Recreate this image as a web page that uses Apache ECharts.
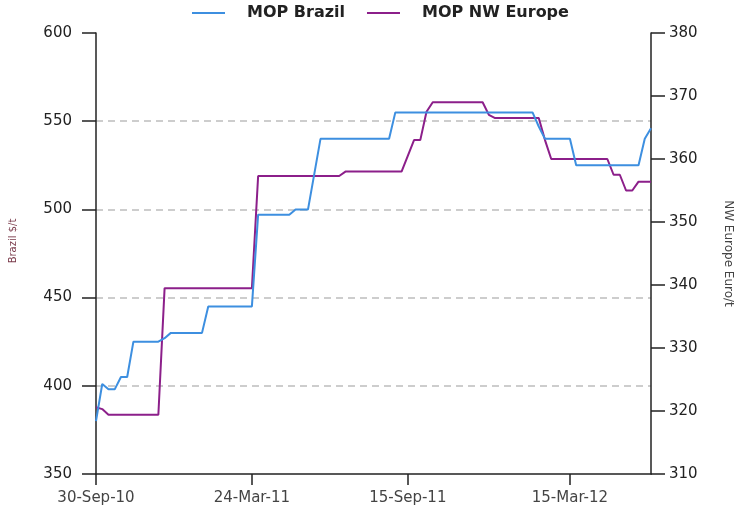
<!DOCTYPE html>
<html>
<head>
<meta charset="utf-8">
<script src="https://cdn.jsdelivr.net/npm/echarts@6/dist/echarts.min.js"></script>
<style>
  html, body { margin: 0; padding: 0; background: #fff; }
  #chart { width: 739px; height: 511px; }
</style>
</head>
<body>
<div id="chart"></div>
<script>
// weekly observations, Thursday 30-Sep-10 onwards
const startDate = new Date(Date.UTC(2010, 8, 30));
const weekCount = 90;
const tickLabels = ['30-Sep-10', '24-Mar-11', '15-Sep-11', '15-Mar-12'];

// MOP Brazil, $/t (left axis)
const brazil = [
  380, 401, 398, 398, 405, 405,
  425, 425, 425, 425, 425, 427,
  430, 430, 430, 430, 430, 430,
  445, 445, 445, 445, 445, 445, 445, 445,
  497, 497, 497, 497, 497, 497,
  500, 500, 500, 520,
  540, 540, 540, 540, 540, 540, 540, 540, 540, 540, 540, 540,
  555, 555, 555, 555, 555, 555, 555, 555, 555, 555, 555, 555,
  555, 555, 555, 555, 555, 555, 555, 555, 555, 555, 555,
  547, 540, 540, 540, 540, 540,
  525, 525, 525, 525, 525, 525, 525, 525, 525, 525, 525,
  540, 546
];

// MOP NW Europe, Euro/t (right axis)
const europe = [
  320.6, 320.3,
  319.4, 319.4, 319.4, 319.4, 319.4, 319.4, 319.4, 319.4, 319.4,
  339.5, 339.5, 339.5, 339.5, 339.5, 339.5, 339.5, 339.5,
  339.5, 339.5, 339.5, 339.5, 339.5, 339.5, 339.5,
  357.3, 357.3, 357.3, 357.3, 357.3, 357.3, 357.3,
  357.3, 357.3, 357.3, 357.3, 357.3, 357.3, 357.3,
  358, 358, 358, 358, 358, 358, 358, 358, 358, 358,
  360.5, 363, 363, 367.5,
  369, 369, 369, 369, 369, 369, 369, 369, 369,
  367, 366.5, 366.5, 366.5, 366.5, 366.5, 366.5, 366.5, 366.5,
  363, 360, 360, 360, 360, 360, 360, 360, 360, 360, 360,
  357.5, 357.5, 355, 355, 356.4, 356.4, 356.4
];

const MONTHS = ['Jan','Feb','Mar','Apr','May','Jun','Jul','Aug','Sep','Oct','Nov','Dec'];
const fmt = d => d.getUTCDate() + '-' + MONTHS[d.getUTCMonth()] + '-' + String(d.getUTCFullYear()).slice(2);

const dates = [];
for (let i = 0; i < weekCount; i++) {
  dates.push(fmt(new Date(startDate.getTime() + i * 7 * 86400000)));
}
const showTick = (idx, val) => tickLabels.indexOf(val) !== -1;

const chart = echarts.init(document.getElementById('chart'));
const fontFamily = '"DejaVu Sans", "Liberation Sans", sans-serif';

chart.setOption({
  backgroundColor: '#fff',
  animation: false,
  textStyle: { fontFamily },
  legend: {
    top: 0,
    left: 187,
    itemWidth: 33,
    itemHeight: 2,
    itemGap: 22,
    icon: 'rect',
    textStyle: { fontSize: 16, fontWeight: 'bold', color: '#222', padding: [0, 0, 0, 17] },
    data: ['MOP Brazil', 'MOP NW Europe']
  },
  grid: { left: 96, right: 88, top: 33, bottom: 37, outerBoundsMode: 'none' },
  xAxis: {
    type: 'category',
    data: dates,
    boundaryGap: false,
    axisLine: { lineStyle: { color: '#222', width: 1.5 } },
    axisTick: { show: true, interval: showTick, length: 11, lineStyle: { color: '#222', width: 1.5 } },
    axisLabel: { interval: showTick, margin: 17, fontSize: 15, color: '#444' },
    splitLine: { show: false }
  },
  yAxis: [{
    type: 'value',
    min: 350,
    max: 600,
    interval: 50,
    name: 'Brazil $/t',
    nameLocation: 'middle',
    nameRotate: 90,
    nameGap: 78,
    nameTextStyle: { fontSize: 10, color: '#7a3a4a', padding: [0, 0, 0, 25] },
    axisLine: { show: true, lineStyle: { color: '#222', width: 1.5 } },
    axisTick: { show: true, length: 14, lineStyle: { color: '#222', width: 1.5 } },
    axisLabel: { margin: 24, fontSize: 15, color: '#222' },
    splitLine: {
      show: true,
      showMinLine: false,
      showMaxLine: false,
      lineStyle: { color: '#bdbdbd', type: [7, 5], width: 1.5 }
    }
  }, {
    type: 'value',
    min: 310,
    max: 380,
    interval: 10,
    position: 'right',
    name: 'NW Europe Euro/t',
    nameLocation: 'middle',
    nameRotate: -90,
    nameGap: 71,
    nameTextStyle: { fontSize: 12, color: '#444' },
    axisLine: { show: true, lineStyle: { color: '#222', width: 1.5 } },
    axisTick: { show: true, length: 14, lineStyle: { color: '#222', width: 1.5 } },
    axisLabel: { margin: 18, fontSize: 15, color: '#222' },
    splitLine: { show: false }
  }],
  series: [{
    name: 'MOP Brazil',
    type: 'line',
    yAxisIndex: 0,
    data: brazil,
    symbol: 'none',
    color: '#3d8fe0',
    lineStyle: { width: 2 },
    z: 3
  }, {
    name: 'MOP NW Europe',
    type: 'line',
    yAxisIndex: 1,
    data: europe,
    symbol: 'none',
    color: '#8c1f8a',
    lineStyle: { width: 2 },
    z: 2
  }]
});
</script>
</body>
</html>
